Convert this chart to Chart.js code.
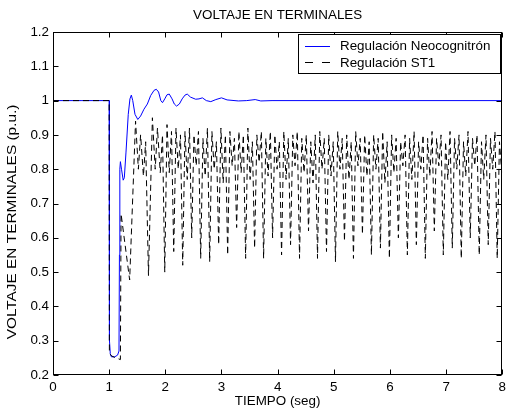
<!DOCTYPE html>
<html><head><meta charset="utf-8">
<script src="https://cdn.jsdelivr.net/npm/chart.js@4/dist/chart.umd.min.js"></script>
<style>html,body{margin:0;padding:0;background:#fff}#wrap{width:510px;height:412px}</style>
</head><body><div id="wrap"><canvas id="c" width="510" height="412"></canvas></div>
<script>
const TITLE = 'VOLTAJE EN TERMINALES';
const X_LABEL = 'TIEMPO (seg)';
const Y_LABEL = 'VOLTAJE EN TERMINALES (p.u.)';
const SERIES_NAMES = ['Regulación Neocognitrón', 'Regulación ST1'];
const X_TICKS = [0, 1, 2, 3, 4, 5, 6, 7, 8];
const Y_TICKS = [0.2, 0.3, 0.4, 0.5, 0.6, 0.7, 0.8, 0.9, 1.0, 1.1, 1.2];

const neoTime = [0, 0.5, 1.0, 1.003, 1.008, 1.02, 1.04, 1.10, 1.15, 1.175, 1.183, 1.19, 1.20,
  1.22, 1.25, 1.27, 1.30, 1.34, 1.37, 1.395, 1.42, 1.46, 1.51, 1.56, 1.62, 1.68, 1.74, 1.80,
  1.84, 1.88, 1.92, 1.95, 1.99, 2.03, 2.07, 2.12, 2.16, 2.20, 2.25, 2.30, 2.35, 2.39, 2.45,
  2.54, 2.60, 2.66, 2.73, 2.81, 2.90, 3.0, 3.1, 3.3, 3.45, 3.6, 3.7, 3.9, 8];
const neoVolt = [1, 1, 1, 0.6, 0.3, 0.262, 0.253, 0.253, 0.258, 0.27, 0.55, 0.80, 0.822,
  0.80, 0.768, 0.775, 0.85, 0.96, 1.005, 1.016, 1.0, 0.96, 0.945, 0.955, 0.975, 0.99, 1.015, 1.03,
  1.033, 1.025, 1.0, 0.994, 1.005, 1.017, 1.019, 1.005, 0.99, 0.984, 0.99, 1.005, 1.016, 1.019, 1.01,
  1.004, 1.005, 1.008, 1.0, 0.997, 1.003, 1.008, 1.002, 0.999, 1.0, 1.003, 0.999, 1.0, 1.0];

const st1Time = [0, 0.5, 1.0, 1.004, 1.05, 1.12, 1.20, 1.212, 1.365, 1.47, 1.52, 1.56, 1.61,
  1.65, 1.70, 1.77, 1.82, 1.86, 1.91, 1.95, 1.99,
  2.03, 2.07, 2.11, 2.15, 2.19, 2.23, 2.27, 2.31, 2.35, 2.39,
  2.43, 2.47, 2.51, 2.55, 2.59, 2.63, 2.67, 2.71, 2.75, 2.79,
  2.83, 2.87, 2.91, 2.95, 2.99, 3.03, 3.07, 3.11, 3.15, 3.19,
  3.23, 3.27, 3.31, 3.35, 3.39, 3.43, 3.47, 3.51, 3.55, 3.59,
  3.63, 3.67, 3.71, 3.75, 3.79, 3.83, 3.87, 3.91, 3.95, 3.99,
  4.03, 4.07, 4.11, 4.15, 4.19, 4.23, 4.27, 4.31, 4.35, 4.39,
  4.43, 4.47, 4.51, 4.55, 4.59, 4.63, 4.67, 4.71, 4.75, 4.79,
  4.83, 4.87, 4.91, 4.95, 4.99, 5.03, 5.07, 5.11, 5.15, 5.19,
  5.23, 5.27, 5.31, 5.35, 5.39, 5.43, 5.47, 5.51, 5.55, 5.59,
  5.63, 5.67, 5.71, 5.75, 5.79, 5.83, 5.87, 5.91, 5.95, 5.99,
  6.03, 6.07, 6.11, 6.15, 6.19, 6.23, 6.27, 6.31, 6.35, 6.39,
  6.43, 6.47, 6.51, 6.55, 6.59, 6.63, 6.67, 6.71, 6.75, 6.79,
  6.83, 6.87, 6.91, 6.95, 6.99, 7.03, 7.07, 7.11, 7.15, 7.19,
  7.23, 7.27, 7.31, 7.35, 7.39, 7.43, 7.47, 7.51, 7.55, 7.59,
  7.63, 7.67, 7.71, 7.75, 7.79, 7.83, 7.87, 7.91, 7.95, 7.99];
const st1Volt = [1, 1, 1, 0.262, 0.255, 0.25, 0.245, 0.67, 0.477, 0.94, 0.80, 0.90, 0.78,
  0.88, 0.49, 0.95, 0.80, 0.92, 0.79, 0.90, 0.50,
  0.93, 0.79, 0.91, 0.56, 0.92, 0.80, 0.90, 0.52, 0.91, 0.77,
  0.92, 0.60, 0.90, 0.81, 0.91, 0.54, 0.89, 0.78, 0.92, 0.53,
  0.91, 0.80, 0.88, 0.58, 0.92, 0.76, 0.90, 0.55, 0.91, 0.81,
  0.89, 0.63, 0.91, 0.79, 0.90, 0.54, 0.92, 0.77, 0.88, 0.57,
  0.90, 0.82, 0.91, 0.54, 0.89, 0.78, 0.91, 0.60, 0.90, 0.80,
  0.88, 0.55, 0.91, 0.77, 0.89, 0.58, 0.90, 0.81, 0.91, 0.54,
  0.89, 0.79, 0.90, 0.62, 0.88, 0.76, 0.90, 0.54, 0.91, 0.80,
  0.89, 0.56, 0.90, 0.78, 0.88, 0.53, 0.91, 0.80, 0.89, 0.59,
  0.90, 0.77, 0.88, 0.54, 0.91, 0.81, 0.89, 0.61, 0.90, 0.78,
  0.88, 0.55, 0.90, 0.80, 0.89, 0.57, 0.91, 0.76, 0.88, 0.54,
  0.90, 0.79, 0.89, 0.60, 0.88, 0.81, 0.90, 0.55, 0.89, 0.77,
  0.91, 0.58, 0.88, 0.80, 0.90, 0.54, 0.89, 0.78, 0.91, 0.62,
  0.89, 0.81, 0.90, 0.55, 0.88, 0.77, 0.91, 0.57, 0.89, 0.80,
  0.90, 0.54, 0.88, 0.78, 0.91, 0.60, 0.89, 0.81, 0.90, 0.55,
  0.88, 0.77, 0.90, 0.58, 0.89, 0.80, 0.91, 0.54, 0.88, 0.79];

const FONT = '"Liberation Sans", Arial, sans-serif';
const toXY = (ts, vs) => ts.map((t, i) => ({ x: t, y: vs[i] }));

const matlabPlugin = {
  id: 'matlabDecor',
  afterDraw(chart) {
    const { ctx, chartArea: a, scales: { x, y } } = chart;
    ctx.save();
    ctx.strokeStyle = '#000';
    ctx.lineWidth = 1;
    const L = Math.round(a.left) + 0.5, R = Math.round(a.right) - 0.5;
    const T = Math.round(a.top) + 0.5, B = Math.round(a.bottom) - 0.5;
    ctx.strokeRect(L, T, R - L, B - T);
    ctx.beginPath();
    x.ticks.forEach(t => {
      const px = Math.round(x.getPixelForValue(t.value)) + 0.5;
      ctx.moveTo(px, B); ctx.lineTo(px, B - 5);
      ctx.moveTo(px, T); ctx.lineTo(px, T + 5);
    });
    y.ticks.forEach(t => {
      const py = Math.round(y.getPixelForValue(t.value)) + 0.5;
      ctx.moveTo(L, py); ctx.lineTo(L + 5, py);
      ctx.moveTo(R, py); ctx.lineTo(R - 5, py);
    });
    ctx.stroke();

    // title
    ctx.fillStyle = '#000';
    ctx.font = '13.4px ' + FONT;
    ctx.textAlign = 'center';
    ctx.textBaseline = 'middle';
    ctx.fillText(TITLE, (a.left + a.right) / 2, 15);

    // y label
    ctx.save();
    ctx.translate(12, 222);
    ctx.rotate(-Math.PI / 2);
    ctx.scale(1.15, 1);
    ctx.fillText(Y_LABEL, 0, 0);
    ctx.restore();

    // legend
    const lx = 298.5, ly = 34.5, lw = 202, lh = 39;
    ctx.fillStyle = '#fff';
    ctx.fillRect(lx, ly, lw, lh);
    ctx.strokeStyle = '#000';
    ctx.strokeRect(lx, ly, lw, lh);
    ctx.beginPath();
    ctx.strokeStyle = '#0000ff';
    ctx.moveTo(305, 46.5); ctx.lineTo(330, 46.5);
    ctx.stroke();
    ctx.beginPath();
    ctx.strokeStyle = '#000';
    ctx.setLineDash([8, 9]);
    ctx.moveTo(305, 62.5); ctx.lineTo(330, 62.5);
    ctx.stroke();
    ctx.setLineDash([]);
    ctx.fillStyle = '#000';
    ctx.textAlign = 'left';
    ctx.fillText(SERIES_NAMES[0], 340, 46.5);
    ctx.fillText(SERIES_NAMES[1], 340, 63);
    ctx.restore();
  }
};

new Chart(document.getElementById('c'), {
  type: 'line',
  data: {
    datasets: [
      { label: SERIES_NAMES[0], data: toXY(neoTime, neoVolt), borderColor: '#0000ff',
        borderWidth: 1, pointRadius: 0, tension: 0, fill: false, order: 1 },
      { label: SERIES_NAMES[1], data: toXY(st1Time, st1Volt), borderColor: '#000000',
        borderWidth: 1, borderDash: [6, 4], pointRadius: 0, tension: 0, fill: false, order: 0 }
    ]
  },
  options: {
    responsive: false,
    animation: false,
    devicePixelRatio: 1,
    layout: { padding: { top: 32, right: 3, bottom: 0, left: 0 } },
    plugins: { legend: { display: false }, tooltip: { enabled: false }, title: { display: false } },
    scales: {
      x: {
        type: 'linear', min: 0, max: 8,
        afterBuildTicks: s => { s.ticks = X_TICKS.map(v => ({ value: v })); },
        afterFit: s => { s.height = 37; },
        grid: { display: false, drawTicks: false },
        border: { display: false },
        ticks: { color: '#000', font: { family: FONT, size: 13.4 }, padding: 4, maxRotation: 0,
          callback: v => String(v) },
        title: { display: true, text: X_LABEL, color: '#000', font: { family: FONT, size: 13.4 },
          padding: { top: 0, bottom: 3 } }
      },
      y: {
        type: 'linear', min: 0.2, max: 1.2,
        afterBuildTicks: s => { s.ticks = Y_TICKS.map(v => ({ value: v })); },
        afterFit: s => { s.width = 53; },
        grid: { display: false, drawTicks: false },
        border: { display: false },
        ticks: { color: '#000', font: { family: FONT, size: 13.4 }, padding: 4,
          callback: v => String(Number(v.toFixed(1))) }
      }
    }
  },
  plugins: [matlabPlugin]
});
</script></body></html>
